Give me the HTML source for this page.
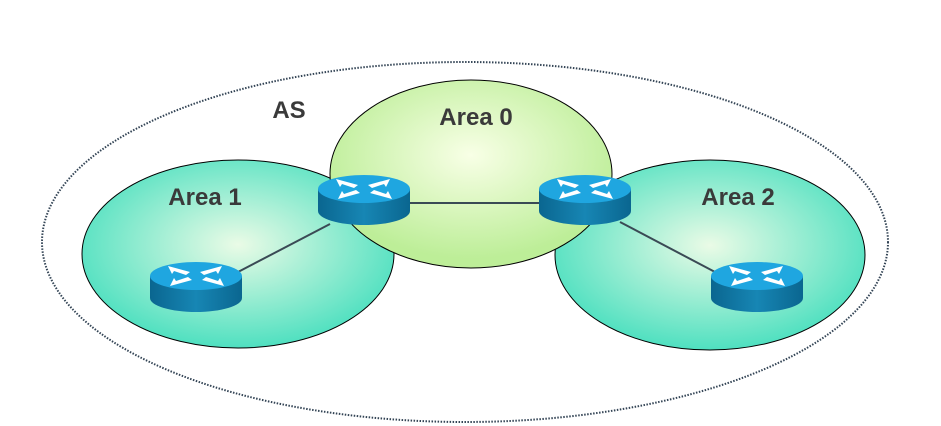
<!DOCTYPE html>
<html><head><style>body{margin:0;background:#fff}svg{display:block}</style></head><body>
<svg width="941" height="426" viewBox="0 0 941 426" xmlns="http://www.w3.org/2000/svg">
<defs>
<radialGradient id="g1" cx="50%" cy="45%" r="55%"><stop offset="0" stop-color="#eafbe6"/><stop offset="1" stop-color="#4fe0c0"/></radialGradient>
<radialGradient id="g0" cx="50%" cy="40%" r="55%"><stop offset="0" stop-color="#f8ffe6"/><stop offset="1" stop-color="#bdee98"/></radialGradient>
<linearGradient id="body" x1="0" x2="1"><stop offset="0" stop-color="#0a6690"/><stop offset=".5" stop-color="#1786b4"/><stop offset="1" stop-color="#0a6690"/></linearGradient>
<g id="r">
<path d="M-46,0 v22 a46,14 0 0 0 92,0 v-22 z" fill="url(#body)"/>
<ellipse cx="0" cy="0" rx="46" ry="14" fill="#1fa6e0"/>
<g fill="#fff">
<path d="M-28,-10 L-6,-4 L-10,-1 L-22,-5 L-24,-2 Z"/>
<path d="M26,-10 L4,-4 L8,-1 L20,-5 L22,-2 Z"/>
<path d="M-26,10 L-4,4 L-8,1 L-20,5 L-22,2 Z"/>
<path d="M28,10 L6,4 L10,1 L22,5 L24,2 Z"/>
</g>
</g>
</defs>
<ellipse cx="465" cy="242" rx="423" ry="180" fill="none" stroke="#334455" stroke-width="2" stroke-dasharray="1.5 1.5"/>
<ellipse cx="238" cy="254" rx="156" ry="94" fill="url(#g1)" stroke="#000" stroke-width="1"/>
<ellipse cx="710" cy="255" rx="155" ry="95" fill="url(#g1)" stroke="#000" stroke-width="1"/>
<ellipse cx="471" cy="174" rx="141" ry="94" fill="url(#g0)" stroke="#000" stroke-width="1"/>
<line x1="330" y1="224" x2="238" y2="272" stroke="#3a4a55" stroke-width="2"/>
<line x1="405" y1="203" x2="545" y2="203" stroke="#3a4a55" stroke-width="2"/>
<line x1="620" y1="222" x2="715" y2="272" stroke="#3a4a55" stroke-width="2"/>
<use href="#r" x="364" y="189"/>
<use href="#r" x="585" y="189"/>
<use href="#r" x="196" y="276"/>
<use href="#r" x="757" y="276"/>
<g font-family="Liberation Sans, sans-serif" font-weight="bold" font-size="24" fill="#3a3a3a" text-anchor="middle">
<text x="289" y="118">AS</text>
<text x="476" y="125">Area 0</text>
<text x="205" y="205">Area 1</text>
<text x="738" y="205">Area 2</text>
</g>
</svg>
</body></html>
